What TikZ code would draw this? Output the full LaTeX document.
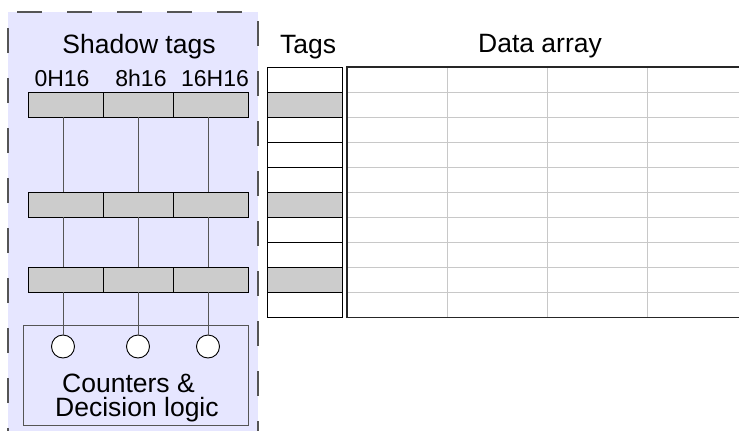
\documentclass[tikz,border=0pt]{standalone}
\usepackage{fontspec}
\setmainfont{Liberation Sans}
\usetikzlibrary{calc}

\definecolor{lavender}{HTML}{E6E6FF}
\definecolor{cellgray}{HTML}{CCCCCC}
\definecolor{gridgray}{HTML}{C8C8C8}
\definecolor{wiregray}{HTML}{555555}

\tikzset{
    shadowcell/.style={draw=black, fill=cellgray, line width=0.9pt, minimum height=25pt, inner sep=0pt},
    tagcell/.style={draw=black, line width=0.9pt, minimum width=75pt, minimum height=25pt, inner sep=0pt},
    counter/.style={circle, draw=black, fill=white, line width=0.9pt, minimum size=23pt, inner sep=0pt},
    wire/.style={draw=wiregray, line width=0.9pt},
    heading/.style={font=\fontsize{26.5}{24}\selectfont, inner sep=0pt, anchor=base},
    collabel/.style={font=\fontsize{23}{24}\selectfont, inner sep=0pt, anchor=base}
}

\begin{document}
\begin{tikzpicture}[x=1pt, y=-1pt]
        \useasboundingbox (0,0) rectangle (739,431);
        \clip (0,0) rectangle (739,431);

        % shadow tag area
        \fill[lavender] (8,12) rectangle (258,440);
        \draw[draw=wiregray, line width=1.6pt, dash pattern=on 25pt off 25pt, dash phase=13pt] (8,440) -- (8,12) -- (258,12) -- (258,440);

        \node[heading] (shadowtitle) at (139,53) {Shadow tags};
        \node[collabel] (lab0) at (62,86) {0H16};
        \node[collabel] (lab8) at (141,86) {8h16};
        \node[collabel] (lab16) at (215,86) {16H16};

        \node[shadowcell, minimum width=75pt] (a1) at (65.5,104.5) {};
        \node[shadowcell, minimum width=70pt] (a2) at (138,104.5) {};
        \node[shadowcell, minimum width=75pt] (a3) at (210.5,104.5) {};
        \node[shadowcell, minimum width=75pt] (b1) at (65.5,204.5) {};
        \node[shadowcell, minimum width=70pt] (b2) at (138,204.5) {};
        \node[shadowcell, minimum width=75pt] (b3) at (210.5,204.5) {};
        \node[shadowcell, minimum width=75pt] (c1) at (65.5,279.5) {};
        \node[shadowcell, minimum width=70pt] (c2) at (138,279.5) {};
        \node[shadowcell, minimum width=75pt] (c3) at (210.5,279.5) {};

        \node[draw=wiregray, line width=0.9pt, minimum width=225pt, minimum height=100pt, inner sep=0pt] (logic) at (135.5,375) {};
        \node[counter] (k1) at (63,346.5) {};
        \node[counter] (k2) at (138,346.5) {};
        \node[counter] (k3) at (208,346.5) {};
        \node[heading, anchor=base west, align=left] (logictext) at (55,416) {\hspace{7pt}Counters \&\\Decision logic};

        \foreach \i in {1,2,3} {
            \draw[wire] (a\i.south -| k\i) -- (b\i.north -| k\i);
            \draw[wire] (b\i.south -| k\i) -- (c\i.north -| k\i);
            \draw[wire] (c\i.south -| k\i) -- (k\i.north);
        }

        % tags
        \node[heading] (tagstitle) at (308,53) {Tags};
        \foreach \i/\f in {0/white, 1/cellgray, 2/white, 3/white, 4/white, 5/cellgray, 6/white, 7/white, 8/cellgray, 9/white}
            \node[tagcell, fill=\f] (t\i) at (304.5,79.5+25*\i) {};

        % data array
        \node[heading] (datatitle) at (540,52) {Data array};
        \node[minimum width=420pt, minimum height=250pt, inner sep=0pt, anchor=north west] (data) at (347,67) {};
        \foreach \y in {1,...,9}
            \draw[gridgray, line width=0.9pt] ($(data.north west)+(0,25*\y)$) -- ($(data.north east)+(0,25*\y)$);
        \foreach \x in {1,2,3}
            \draw[gridgray, line width=0.9pt] ($(data.north west)+(100*\x,0)$) -- ($(data.south west)+(100*\x,0)$);
        \draw[draw=black!85, line width=1.2pt] (data.north east) -- (data.north west) -- (data.south west) -- (data.south east);
\end{tikzpicture}
\end{document}
